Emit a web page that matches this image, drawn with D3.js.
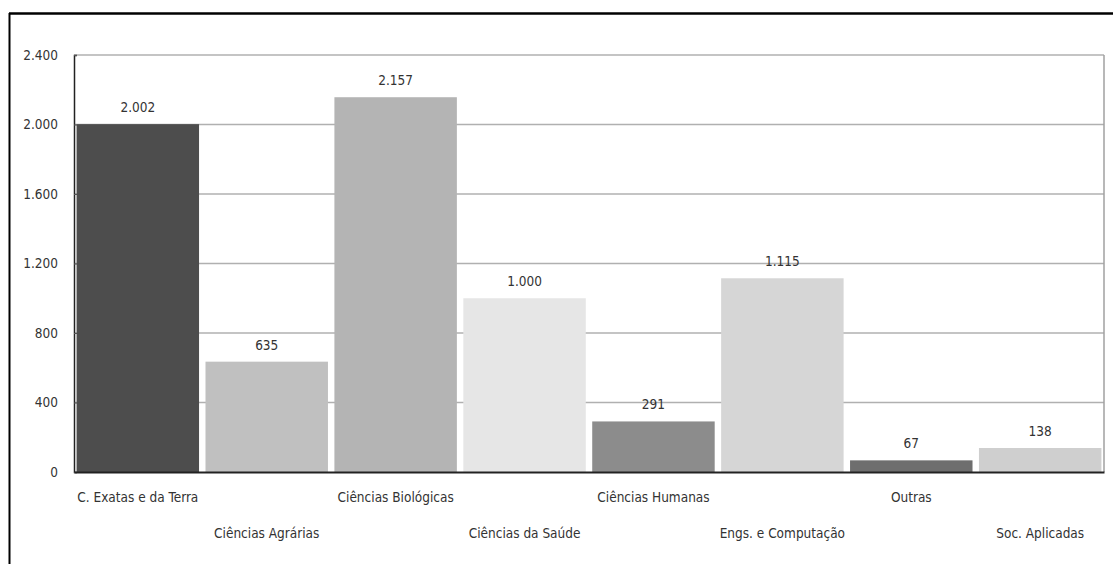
<!DOCTYPE html>
<html>
<head>
<meta charset="utf-8">
<script src="https://cdn.jsdelivr.net/npm/d3@7"></script>
<style>
  body { margin: 0; background: #fff; }
  svg text { font-family: "DejaVu Sans Condensed", "DejaVu Sans", sans-serif; fill: #333; }
</style>
</head>
<body>
<div id="chart"></div>
<script>
// data
var categories = ["C. Exatas e da Terra", "Ciências Agrárias", "Ciências Biológicas", "Ciências da Saúde",
    "Ciências Humanas", "Engs. e Computação", "Outras", "Soc. Aplicadas"];
var values = [2002, 635, 2157, 1000, 291, 1115, 67, 138];
var barColors = ["#4d4d4d", "#c0c0c0", "#b4b4b4", "#e6e6e6", "#8c8c8c", "#d6d6d6", "#6e6e6e", "#cfcfcf"];
var yTicks = [0, 400, 800, 1200, 1600, 2000, 2400];

var W = 1113, H = 564;
var margin = {top: 55, right: 9, bottom: 92, left: 74};
var width = W - margin.left - margin.right,
    height = H - margin.top - margin.bottom;

var ptBR = d3.formatLocale({decimal: ",", thousands: ".", grouping: [3], currency: ["", ""]});
var fmt = ptBR.format(",d");

var svg = d3.select("#chart").append("svg")
    .attr("width", W)
    .attr("height", H);

// outer frame (top and left edges visible)
svg.append("line").attr("x1", 9).attr("x2", W).attr("y1", 13.5).attr("y2", 13.5)
    .attr("stroke", "#000").attr("stroke-width", 2.5);
svg.append("line").attr("x1", 9.5).attr("x2", 9.5).attr("y1", 13).attr("y2", H)
    .attr("stroke", "#000").attr("stroke-width", 2);

var g = svg.append("g")
    .attr("transform", "translate(" + margin.left + "," + margin.top + ")");

var x = d3.scaleBand()
    .domain(categories)
    .range([0, width])
    .paddingInner(0.05)
    .paddingOuter(0.02);

var y = d3.scaleLinear()
    .domain([0, 2400])
    .range([height, 0]);

// gridlines
g.selectAll(".grid")
    .data(yTicks.slice(1))
    .enter().append("line")
    .attr("class", "grid")
    .attr("x1", 0).attr("x2", width)
    .attr("y1", function(d) { return y(d); })
    .attr("y2", function(d) { return y(d); })
    .attr("stroke", "#b0b0b0")
    .attr("stroke-width", 1.5);

// right frame of plot area
g.append("line").attr("x1", width).attr("x2", width).attr("y1", 0).attr("y2", height)
    .attr("stroke", "#a0a0a0").attr("stroke-width", 1.5);

// bars
g.selectAll(".bar")
    .data(values)
    .enter().append("rect")
    .attr("class", "bar")
    .attr("x", function(d, i) { return x(categories[i]); })
    .attr("width", x.bandwidth())
    .attr("y", function(d) { return y(d); })
    .attr("height", function(d) { return height - y(d); })
    .attr("fill", function(d, i) { return barColors[i]; });

// value labels
g.selectAll(".val")
    .data(values)
    .enter().append("text")
    .attr("class", "val")
    .attr("x", function(d, i) { return x(categories[i]) + x.bandwidth() / 2; })
    .attr("y", function(d) { return y(d) - 12; })
    .attr("text-anchor", "middle")
    .style("font-size", "13.5px")
    .text(function(d) { return fmt(d); });

// y axis
var yAxis = d3.axisLeft(y)
    .tickValues(yTicks)
    .tickSize(-3)
    .tickPadding(16)
    .tickFormat(fmt);

g.append("g")
    .attr("class", "y-axis")
    .call(yAxis)
    .call(function(s) {
        s.select(".domain").attr("stroke", "#222").attr("stroke-width", 1.5);
        s.selectAll(".tick line").attr("stroke", "#555");
        s.selectAll(".tick text").style("font-size", "13.5px").attr("fill", "#333");
    });

// x axis with staggered labels
var xAxis = d3.axisBottom(x).tickSize(0).tickPadding(0);

g.append("g")
    .attr("class", "x-axis")
    .attr("transform", "translate(0," + height + ")")
    .call(xAxis)
    .call(function(s) {
        s.select(".domain").attr("stroke", "#222").attr("stroke-width", 2);
        s.selectAll(".tick text")
            .style("font-size", "13.5px")
            .attr("fill", "#333")
            .attr("dy", null)
            .attr("y", function(d, i) { return i % 2 === 0 ? 30 : 66; });
    });
</script>
</body>
</html>
